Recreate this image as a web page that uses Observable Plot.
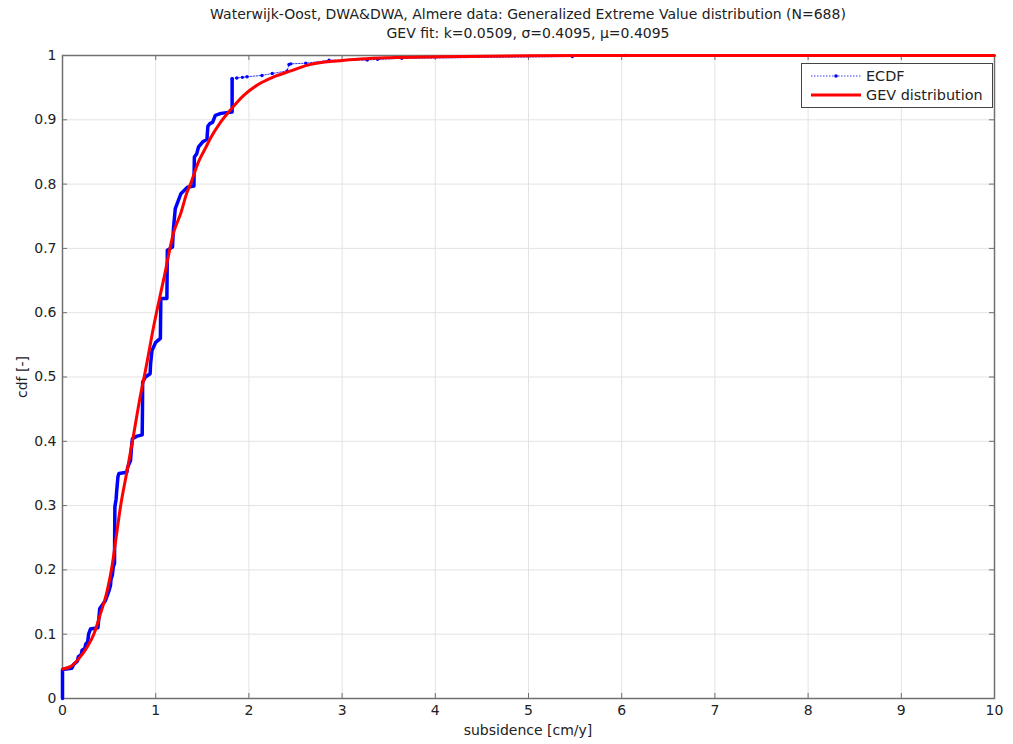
<!DOCTYPE html>
<html>
<head>
<meta charset="utf-8">
<script src="https://cdn.jsdelivr.net/npm/d3@7"></script>
<script src="https://cdn.jsdelivr.net/npm/@observablehq/plot@0.6"></script>
<style>
  body { margin: 0; background: #fff; }
  #wrap { position: relative; width: 1013px; height: 744px; font-family: "DejaVu Sans", sans-serif; color: #222; }
  #wrap svg { position: absolute; left: 0; top: 0; }
  .title { position: absolute; left: 62px; width: 932px; text-align: center; font-size: 14px; line-height: 19px; top: 5px; }
  .xlabel { position: absolute; left: 62px; width: 932px; text-align: center; font-size: 14px; top: 722px; }
  .ylabel { position: absolute; left: 22px; top: 377px; font-size: 14px; transform: translate(-50%, -50%) rotate(-90deg); white-space: nowrap; }
  .legend { position: absolute; left: 801px; top: 63px; width: 190px; height: 43px; border: 1px solid #444; background: #fff; font-size: 14.4px; }
  .legend .row { position: absolute; left: 9px; height: 18px; display: flex; align-items: center; }
  .legend .row span { margin-left: 5px; }
</style>
</head>
<body>
<div id="wrap">
  <div class="title">Waterwijk-Oost, DWA&amp;DWA, Almere data: Generalized Extreme Value distribution (N=688)<br>GEV fit: k=0.0509, σ=0.4095, μ=0.4095</div>
  <div class="xlabel">subsidence [cm/y]</div>
  <div class="ylabel">cdf [-]</div>
  <div class="legend">
    <div class="row" style="top:3px">
      <svg width="50" height="10" style="position:static"><line x1="0" y1="5" x2="50" y2="5" stroke="#3b3bff" stroke-width="1" stroke-dasharray="1.5,1.5"/><circle cx="25" cy="5" r="1.8" fill="#0000ff"/></svg>
      <span>ECDF</span>
    </div>
    <div class="row" style="top:22px">
      <svg width="50" height="10" style="position:static"><line x1="0" y1="5" x2="50" y2="5" stroke="#ff0000" stroke-width="3"/></svg>
      <span>GEV distribution</span>
    </div>
  </div>
</div>
<script>
// Empirical CDF of the subsidence sample: dense body (step vertices)
const bodyX = [0, 0, 0.10, 0.12, 0.16, 0.17, 0.20, 0.21, 0.24, 0.25, 0.27, 0.28, 0.30, 0.38, 0.39, 0.40, 0.44, 0.46, 0.48, 0.50, 0.515, 0.52, 0.535, 0.545, 0.558, 0.56, 0.562, 0.575, 0.58, 0.595, 0.605, 0.69, 0.70, 0.73, 0.74, 0.75, 0.80, 0.855, 0.858, 0.86, 0.89, 0.94, 0.945, 0.96, 1.00, 1.05, 1.055, 1.12, 1.125, 1.18, 1.19, 1.21, 1.27, 1.34, 1.41, 1.415, 1.44, 1.46, 1.50, 1.55, 1.56, 1.58, 1.61, 1.64, 1.70, 1.82, 1.82];
const bodyY = [0, 0.045, 0.047, 0.053, 0.058, 0.065, 0.068, 0.075, 0.078, 0.085, 0.088, 0.100, 0.108, 0.110, 0.125, 0.140, 0.148, 0.152, 0.160, 0.168, 0.176, 0.185, 0.192, 0.205, 0.210, 0.260, 0.298, 0.310, 0.320, 0.345, 0.350, 0.352, 0.360, 0.370, 0.390, 0.404, 0.408, 0.410, 0.450, 0.492, 0.500, 0.505, 0.520, 0.541, 0.554, 0.560, 0.622, 0.622, 0.697, 0.702, 0.730, 0.762, 0.785, 0.795, 0.797, 0.842, 0.847, 0.858, 0.865, 0.870, 0.890, 0.894, 0.896, 0.907, 0.910, 0.912, 0.964];

// Sparse upper tail of the ECDF (individual observations)
const tailX = [1.82, 1.87, 1.93, 1.98, 2.14, 2.25, 2.41, 2.43, 2.45, 2.61, 2.86, 3.27, 3.38, 3.64, 5.47, 6.04];
const tailY = [0.964, 0.965, 0.966, 0.967, 0.969, 0.972, 0.976, 0.986, 0.987, 0.988, 0.9925, 0.993, 0.994, 0.9956, 0.9985, 1.0];

// Fitted GEV distribution curve
const gevX = [0, 0.09, 0.175, 0.265, 0.336, 0.408, 0.48, 0.533, 0.57, 0.622, 0.694, 0.765, 0.837, 0.89, 0.98, 1.09, 1.195, 1.27, 1.338, 1.373, 1.46, 1.534, 1.59, 1.695, 1.80, 1.945, 2.10, 2.27, 2.45, 2.63, 2.98, 3.5, 4.06, 5, 6, 8, 10];
const gevY = [0.046, 0.050, 0.062, 0.080, 0.100, 0.132, 0.168, 0.207, 0.245, 0.298, 0.355, 0.412, 0.472, 0.51, 0.58, 0.655, 0.726, 0.755, 0.788, 0.80, 0.835, 0.856, 0.872, 0.896, 0.915, 0.938, 0.955, 0.967, 0.976, 0.985, 0.992, 0.9965, 0.998, 0.9995, 0.9999, 1.0, 1.0];

const xTicks = [0, 1, 2, 3, 4, 5, 6, 7, 8, 9, 10];
const yTicks = [0, 0.1, 0.2, 0.3, 0.4, 0.5, 0.6, 0.7, 0.8, 0.9, 1];

const body = bodyX.map((x, i) => ({x, y: bodyY[i]}));
const tail = tailX.map((x, i) => ({x, y: tailY[i]}));
const gev = gevX.map((x, i) => ({x, y: gevY[i]}));

const W = 1013, H = 744;
const mL = 62, mR = 19, mT = 55, mB = 46;
const frameW = W - mL - mR, frameH = H - mT - mB;
const tickLen = 5;
const axisColor = "#707070";
const gridColor = "#e3e3e3";

const chart = Plot.plot({
  width: W,
  height: H,
  marginLeft: mL,
  marginRight: mR,
  marginTop: mT,
  marginBottom: mB,
  style: {fontFamily: "DejaVu Sans, sans-serif", fontSize: "14px", color: "#222", background: "transparent"},
  x: {domain: [0, 10]},
  y: {domain: [0, 1]},
  marks: [
    Plot.gridX(xTicks, {stroke: gridColor, strokeOpacity: 1}),
    Plot.gridY(yTicks, {stroke: gridColor, strokeOpacity: 1}),
    // inward tick marks on all four sides
    Plot.tickX(xTicks, {x: d => d, stroke: axisColor, insetTop: frameH - tickLen}),
    Plot.tickX(xTicks, {x: d => d, stroke: axisColor, insetBottom: frameH - tickLen}),
    Plot.tickY(yTicks, {y: d => d, stroke: axisColor, insetRight: frameW - tickLen}),
    Plot.tickY(yTicks, {y: d => d, stroke: axisColor, insetLeft: frameW - tickLen}),
    Plot.axisX({ticks: xTicks, tickSize: 0, tickPadding: 7, tickFormat: d => String(d), label: null, fill: "#222"}),
    Plot.axisY({ticks: yTicks, tickSize: 0, tickPadding: 6, tickFormat: d => String(d), label: null, fill: "#222"}),
    Plot.frame({stroke: axisColor, strokeWidth: 1.5}),
    // ECDF: dotted connector, solid dense body, tail markers
    Plot.line(tail, {x: "x", y: "y", stroke: "#2d2dff", strokeWidth: 1, strokeDasharray: "1.5,1.5"}),
    Plot.line(body, {x: "x", y: "y", stroke: "#0000ff", strokeWidth: 3.5, strokeLinejoin: "round"}),
    Plot.dot(tail, {x: "x", y: "y", r: 1.7, fill: "#0000ff", stroke: "none"}),
    // GEV fit
    Plot.line(gev, {x: "x", y: "y", stroke: "#ff0000", strokeWidth: 3, curve: "monotone-x"})
  ]
});
document.getElementById("wrap").prepend(chart);
</script>
</body>
</html>
